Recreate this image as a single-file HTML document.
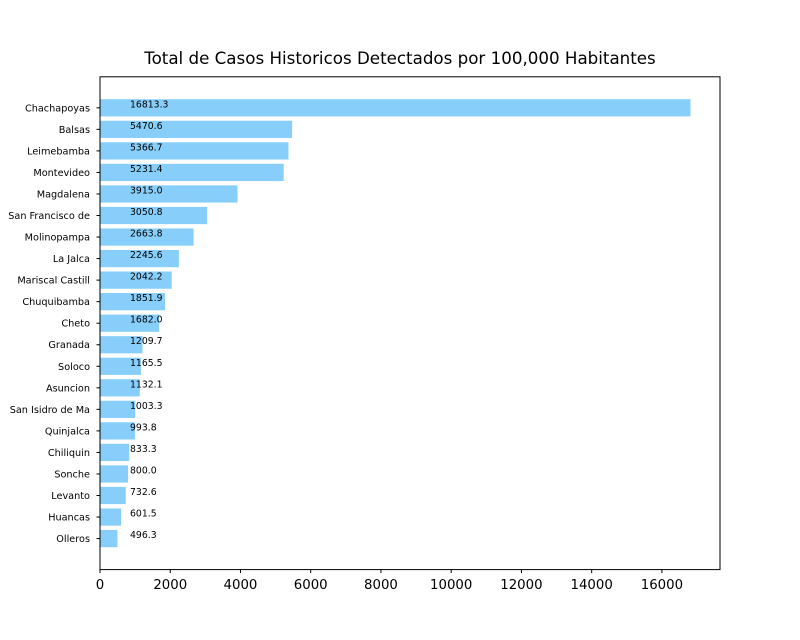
<!DOCTYPE html>
<html><head><meta charset="utf-8"><style>body{margin:0;background:#fff}svg{display:block}text{font-family:"DejaVu Sans","Liberation Sans",sans-serif}</style></head>
<body>
<svg width="800" height="640" xmlns="http://www.w3.org/2000/svg">
<rect width="800" height="640" fill="#fff"/>
<text x="400" y="64" font-size="16.7" text-anchor="middle">Total de Casos Historicos Detectados por 100,000 Habitantes</text>
<g id="bars"></g>
<rect x="100" y="76.8" width="620" height="492.8" fill="none" stroke="#000" stroke-width="1"/>
<g id="xt" font-size="13.3" text-anchor="middle"></g>
<g id="yt" font-size="9.7" text-anchor="end"></g>
<script>
var d=[["Chachapoyas",16813.3],["Balsas",5470.6],["Leimebamba",5366.7],["Montevideo",5231.4],["Magdalena",3915.0],["San Francisco de",3050.8],["Molinopampa",2663.8],["La Jalca",2245.6],["Mariscal Castill",2042.2],["Chuquibamba",1851.9],["Cheto",1682.0],["Granada",1209.7],["Soloco",1165.5],["Asuncion",1132.1],["San Isidro de Ma",1003.3],["Quinjalca",993.8],["Chiliquin",833.3],["Sonche",800.0],["Levanto",732.6],["Huancas",601.5],["Olleros",496.3]];
var ns="http://www.w3.org/2000/svg",sx=620/17653.97,sy=492.8/22.88,s="";
function el(g,t,a,txt){var e=document.createElementNS(ns,t);for(var k in a)e.setAttribute(k,a[k]);if(txt!=null)e.textContent=txt;document.getElementById(g).appendChild(e);}
d.forEach(function(r,i){var c=76.8+(1.44+i)*sy;
el("bars","rect",{x:100,y:c-0.4*sy,width:r[1]*sx,height:0.8*sy,fill:"#87CEFA"});
el("bars","text",{x:130,y:c-0.5,"font-size":"9.3"},r[1].toFixed(1));
el("yt","line",{x1:96.5,x2:100,y1:c,y2:c,stroke:"#000"});
el("yt","text",{x:90,y:c+3.5},r[0]);});
for(var v=0;v<=16000;v+=2000){var x=100+v*sx;el("xt","line",{x1:x,x2:x,y1:569.6,y2:573.1,stroke:"#000"});el("xt","text",{x:x,y:589},v);}
</script>
</svg>
</body></html>
